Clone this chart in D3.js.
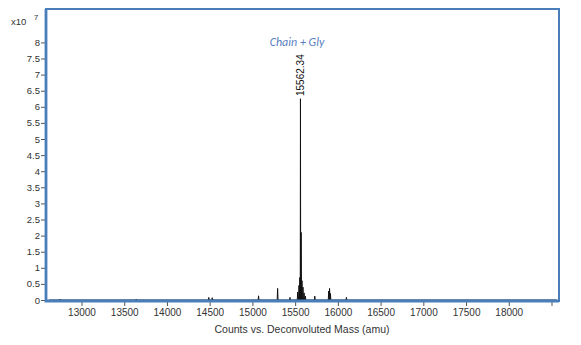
<!DOCTYPE html>
<html>
<head>
<meta charset="utf-8">
<script src="https://cdn.jsdelivr.net/npm/d3@7"></script>
<style>
  body { margin: 0; background: #fff; }
  text { font-family: "Liberation Sans", Arial, sans-serif; }
</style>
</head>
<body>
<div class="chart"></div>
<script>
// spectrum peaks, mass in amu, height in units of 1e7 counts
var peakMass = [12750, 13640, 14490, 14530, 15072, 15295, 15440,
                15530, 15545, 15555, 15562.34, 15570, 15580, 15592, 15605, 15620,
                15730, 15893, 15903, 15913, 16100];
var peakHeight = [0.03, 0.03, 0.08, 0.07, 0.13, 0.36, 0.08,
                  0.25, 0.45, 0.7, 6.25, 2.1, 0.6, 0.4, 0.22, 0.12,
                  0.12, 0.28, 0.36, 0.2, 0.08];
var yTicks = [0, 0.5, 1, 1.5, 2, 2.5, 3, 3.5, 4, 4.5, 5, 5.5, 6, 6.5, 7, 7.5, 8];
var xTicks = [13000, 13500, 14000, 14500, 15000, 15500, 16000, 16500, 17000, 17500, 18000, 18500];
var xTickLabels = ['13000', '13500', '14000', '14500', '15000', '15500', '16000',
                   '16500', '17000', '17500', '18000', ''];
var peakLabel = '15562.34';
var annotation = 'Chain + Gly';

var width = 581, height = 345;
var frame = {left: 46, top: 9, right: 559, bottom: 301};
var blue = '#4a7ebb';

var svg = d3.select('.chart').append('svg')
  .attr('width', width)
  .attr('height', height);

var x = d3.scaleLinear().domain([13000, 18500]).range([81.5, 551.5]);
var y = d3.scaleLinear().domain([0, 8]).range([300, 42.4]);

// axes
var yAxis = d3.axisLeft(y)
  .tickValues(yTicks)
  .tickSize(5)
  .tickPadding(1)
  .tickFormat(function(d) { return String(d); });
var gy = svg.append('g')
  .attr('transform', 'translate(' + frame.left + ',0)')
  .call(yAxis);
gy.select('.domain').remove();
gy.selectAll('line').attr('stroke', '#555');
gy.selectAll('text').attr('fill', '#333').style('font-size', '9.5px');

var xAxis = d3.axisBottom(x)
  .tickValues(xTicks)
  .tickSize(5)
  .tickPadding(3)
  .tickFormat(function(d, i) { return xTickLabels[i]; });
var gx = svg.append('g')
  .attr('transform', 'translate(0,' + frame.bottom + ')')
  .call(xAxis);
gx.select('.domain').remove();
gx.selectAll('line').attr('stroke', '#555');
gx.selectAll('text').attr('fill', '#333').style('font-size', '10px');

// spectrum as narrow peaks
var pts = [];
peakMass.forEach(function(m, i) {
  pts.push([m - 5, 0], [m, peakHeight[i]], [m + 5, 0]);
});
pts.sort(function(a, b) { return a[0] - b[0]; });
pts.unshift([12620, 0]);
pts.push([18560, 0]);

var line = d3.line()
  .x(function(d) { return x(d[0]); })
  .y(function(d) { return y(d[1]); });

svg.append('path')
  .datum(pts)
  .attr('d', line)
  .attr('fill', 'none')
  .attr('stroke', '#111')
  .attr('stroke-width', 1);

// frame
svg.append('rect')
  .attr('x', frame.left)
  .attr('y', frame.top)
  .attr('width', frame.right - frame.left)
  .attr('height', frame.bottom - frame.top)
  .attr('fill', 'none')
  .attr('stroke', blue)
  .attr('stroke-width', 2);
svg.append('path')
  .attr('d', 'M' + frame.left + ',' + frame.top + 'V' + frame.bottom + 'H' + frame.right)
  .attr('fill', 'none')
  .attr('stroke', blue)
  .attr('stroke-width', 2.8);

// labels
svg.append('text')
  .attr('x', 11).attr('y', 25)
  .attr('fill', '#333')
  .style('font-size', '9.5px')
  .text('x10');
svg.append('text')
  .attr('x', 34).attr('y', 20)
  .attr('fill', '#333')
  .style('font-size', '7.5px')
  .text('7');

var peakX = x(15562.34);
svg.append('text')
  .attr('transform', 'translate(' + (peakX + 3.5) + ',' + 96 + ') rotate(-90)')
  .attr('fill', '#111')
  .style('font-size', '10px')
  .text(peakLabel);

svg.append('text')
  .attr('x', 297).attr('y', 46)
  .attr('text-anchor', 'middle')
  .attr('fill', '#5b7fc0')
  .style('font-size', '12px')
  .style('font-style', 'italic')
  .style('font-family', 'Carlito, "Open Sans", sans-serif')
  .text(annotation);

svg.append('text')
  .attr('x', 302).attr('y', 333)
  .attr('text-anchor', 'middle')
  .attr('fill', '#333')
  .style('font-size', '10.5px')
  .text('Counts vs. Deconvoluted Mass (amu)');
</script>
</body>
</html>
